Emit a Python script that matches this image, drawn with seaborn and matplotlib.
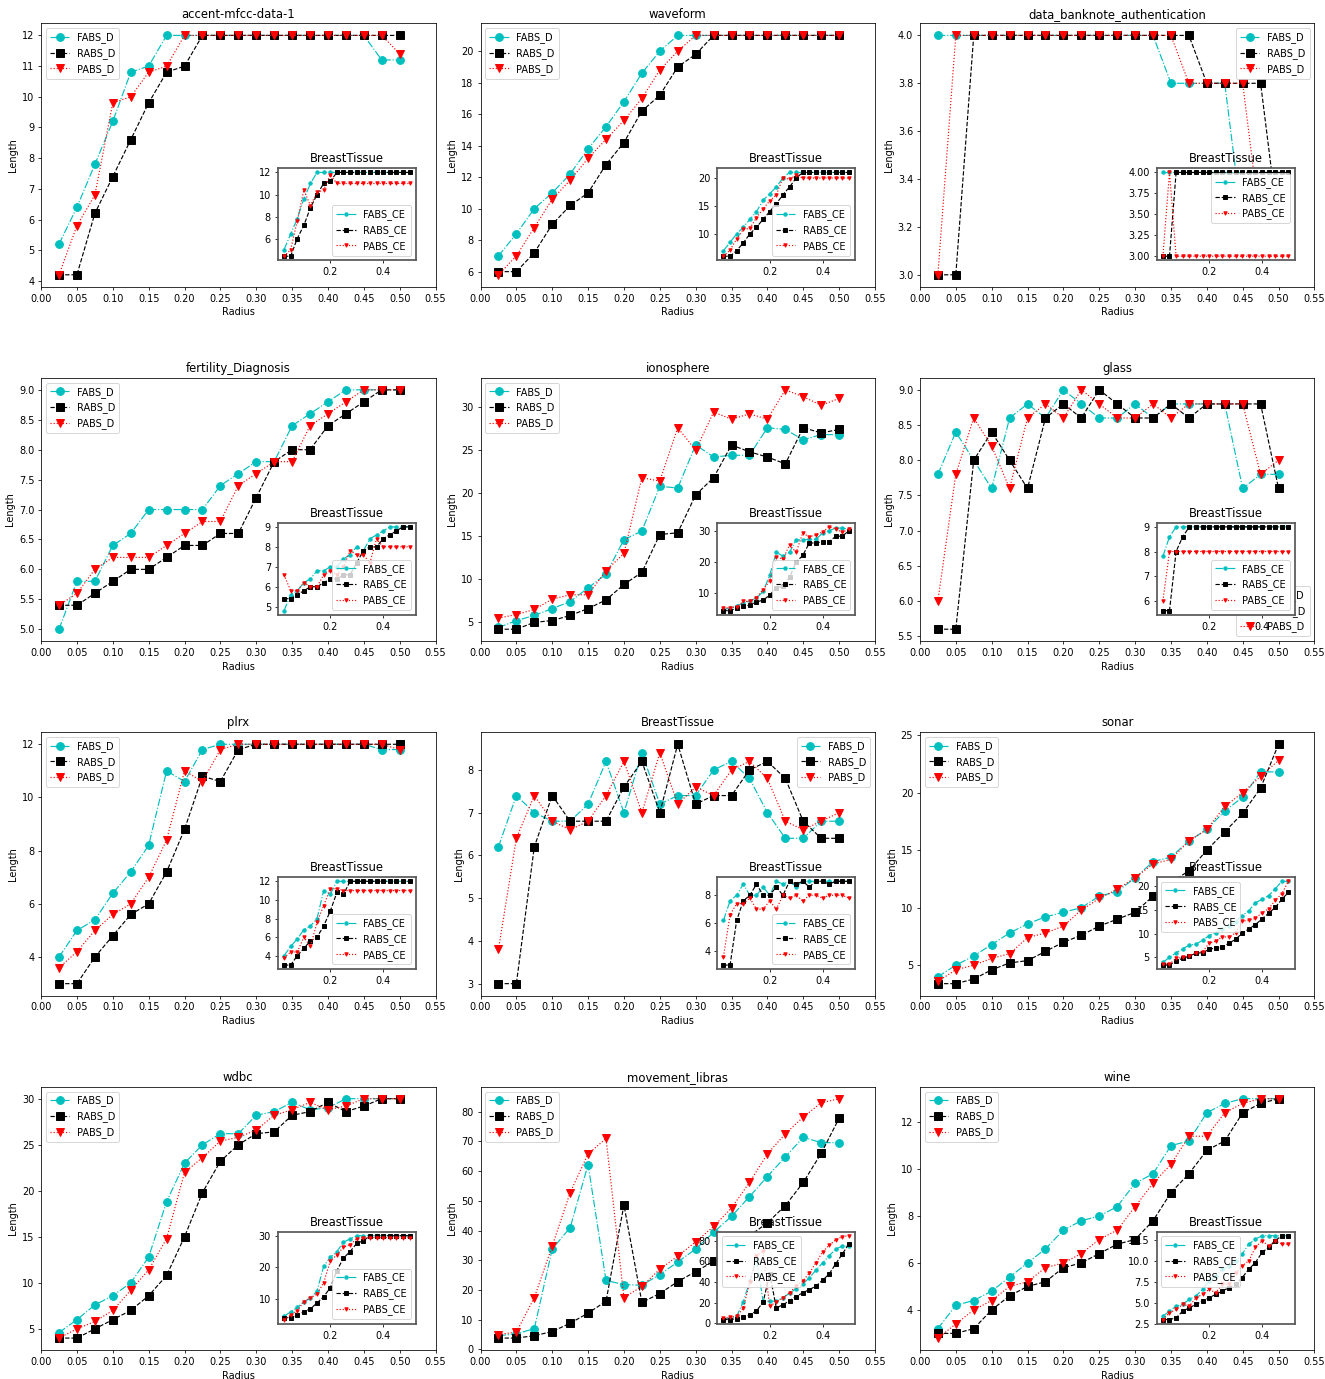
import matplotlib
matplotlib.use("Agg")
import matplotlib.pyplot as plt
import seaborn as sns

radius = [0.025, 0.05, 0.075, 0.1, 0.125, 0.15, 0.175, 0.2, 0.225, 0.25,
          0.275, 0.3, 0.325, 0.35, 0.375, 0.4, 0.425, 0.45, 0.475, 0.5]
main_ticks = [0.0, 0.05, 0.1, 0.15, 0.2, 0.25, 0.3, 0.35, 0.4, 0.45, 0.5, 0.55]

titles = ["accent-mfcc-data-1", "waveform", "data_banknote_authentication",
          "fertility_Diagnosis", "ionosphere", "glass",
          "plrx", "BreastTissue", "sonar",
          "wdbc", "movement_libras", "wine"]
inset_title = "BreastTissue"
main_labels = ["FABS_D", "RABS_D", "PABS_D"]
inset_labels = ["FABS_CE", "RABS_CE", "PABS_CE"]

# ---- accent-mfcc-data-1
accent_F = [5.2, 6.4, 7.8, 9.2, 10.8, 11.0, 12, 12, 12, 12, 12, 12, 12, 12, 12, 12, 12, 12, 11.2, 11.2]
accent_R = [4.2, 4.2, 6.2, 7.4, 8.6, 9.8, 10.8, 11.0, 12, 12, 12, 12, 12, 12, 12, 12, 12, 12, 12, 12]
accent_P = [4.2, 5.8, 6.8, 9.8, 10.0, 10.8, 11.0, 12, 12, 12, 12, 12, 12, 12, 12, 12, 12, 12, 12, 11.4]
accent_Fi = [5.0, 6.4, 7.8, 9.6, 11.0, 12, 12, 12, 12, 12, 12, 12, 12, 12, 12, 12, 12, 12, 12, 12]
accent_Ri = [4.4, 4.4, 6.0, 7.2, 8.8, 10.0, 11.0, 11.2, 12, 12, 12, 12, 12, 12, 12, 12, 12, 12, 12, 12]
accent_Pi = [4.4, 5.0, 7.6, 10.4, 9.0, 10.2, 10.4, 11.8, 11, 11, 11, 11, 11, 11, 11, 11, 11, 11, 11, 11]

# ---- waveform
wave_F = [7.0, 8.4, 10.0, 11.0, 12.2, 13.8, 15.2, 16.8, 18.6, 20.0, 21, 21, 21, 21, 21, 21, 21, 21, 21, 21]
wave_R = [6.0, 6.0, 7.2, 9.0, 10.2, 11.0, 12.8, 14.2, 16.2, 17.2, 19.0, 19.8, 21, 21, 21, 21, 21, 21, 21, 21]
wave_P = [5.8, 7.0, 8.8, 10.6, 11.8, 13.2, 14.4, 15.6, 17.0, 18.8, 20.0, 21, 21, 21, 21, 21, 21, 21, 21, 21]
wave_Fi = [7.0, 8.5, 10.0, 11.2, 12.6, 14.0, 16.0, 17.2, 18.4, 20.0, 21, 21, 21, 21, 21, 21, 21, 21, 21, 21]
wave_Ri = [6.0, 6.0, 7.0, 8.4, 10.0, 11.2, 12.6, 14.0, 15.4, 17.0, 18.4, 20.0, 21, 21, 21, 21, 21, 21, 21, 21]
wave_Pi = [6.0, 7.1, 9.1, 10.8, 11.0, 12.9, 14.5, 15.9, 17.0, 20.0, 19.8, 20.5, 20, 20, 20, 20, 20, 20, 20, 20]

# ---- data_banknote_authentication
bank_F = [4.0, 4.0, 4.0, 4.0, 4.0, 4.0, 4.0, 4.0, 4.0, 4.0, 4.0, 4.0, 4.0, 3.8, 3.8, 3.8, 3.8, 3.2, 3.2, 3.2]
bank_R = [3.0, 3.0, 4.0, 4.0, 4.0, 4.0, 4.0, 4.0, 4.0, 4.0, 4.0, 4.0, 4.0, 4.0, 4.0, 3.8, 3.8, 3.8, 3.8, 3.2]
bank_P = [3.0, 4.0, 4.0, 4.0, 4.0, 4.0, 4.0, 4.0, 4.0, 4.0, 4.0, 4.0, 4.0, 4.0, 3.8, 3.8, 3.8, 3.8, 3.2, 3.2]
bank_Fi = [4.0, 4.0, 4.0, 4.0, 4.0, 4.0, 4.0, 4.0, 4.0, 4.0, 4.0, 4.0, 4.0, 4.0, 4.0, 4.0, 4.0, 4.0, 4.0, 4.0]
bank_Ri = [3.0, 3.0, 4.0, 4.0, 4.0, 4.0, 4.0, 4.0, 4.0, 4.0, 4.0, 4.0, 4.0, 4.0, 4.0, 4.0, 4.0, 4.0, 4.0, 4.0]
bank_Pi = [3.0, 4.0, 3.0, 3.0, 3.0, 3.0, 3.0, 3.0, 3.0, 3.0, 3.0, 3.0, 3.0, 3.0, 3.0, 3.0, 3.0, 3.0, 3.0, 3.0]

# ---- fertility_Diagnosis
fert_F = [5.0, 5.8, 5.8, 6.4, 6.6, 7.0, 7.0, 7.0, 7.0, 7.4, 7.6, 7.8, 7.8, 8.4, 8.6, 8.8, 9.0, 9.0, 9.0, 9.0]
fert_R = [5.4, 5.4, 5.6, 5.8, 6.0, 6.0, 6.2, 6.4, 6.4, 6.6, 6.6, 7.2, 7.8, 8.0, 8.0, 8.4, 8.6, 8.8, 9.0, 9.0]
fert_P = [5.4, 5.6, 6.0, 6.2, 6.2, 6.2, 6.4, 6.6, 6.8, 6.8, 7.4, 7.6, 7.8, 7.8, 8.4, 8.6, 8.8, 9.0, 9.0, 9.0]
fert_Fi = [4.8, 5.6, 5.8, 6.2, 6.4, 6.8, 6.8, 7.0, 7.0, 7.4, 7.6, 8.0, 7.8, 8.4, 8.6, 8.8, 9.0, 9.0, 9.0, 9.0]
fert_Ri = [5.4, 5.4, 5.6, 5.8, 6.0, 6.0, 6.2, 6.4, 6.4, 6.6, 6.6, 7.2, 7.8, 8.0, 8.0, 8.4, 8.6, 8.8, 9.0, 9.0]
fert_Pi = [6.6, 5.8, 5.8, 6.2, 6.0, 6.0, 6.6, 6.8, 6.6, 7.0, 7.8, 7.6, 7.6, 7.2, 8.4, 8.0, 8.0, 8.0, 8.0, 8.0]

# ---- ionosphere
iono_F = [4.4, 5.2, 5.8, 6.6, 7.4, 9.0, 10.6, 14.6, 15.6, 20.8, 20.6, 25.6, 24.2, 24.4, 24.4, 27.6, 27.4, 26.2, 26.8, 26.8]
iono_R = [4.2, 4.2, 5.0, 5.2, 5.8, 6.6, 7.6, 9.4, 10.8, 15.2, 15.4, 19.8, 21.8, 25.6, 24.8, 24.2, 23.4, 27.6, 27.0, 27.4]
iono_P = [5.5, 5.9, 6.5, 7.7, 8.2, 8.2, 11.0, 13.0, 21.8, 21.4, 27.6, 25.0, 29.4, 28.6, 29.2, 28.6, 32.0, 31.2, 30.2, 31.0]
iono_Fi = [4.6, 5.0, 5.8, 6.6, 7.4, 8.2, 10.4, 15.6, 23.0, 21.8, 23.0, 27.0, 27.0, 27.2, 27.2, 29.2, 30.0, 30.8, 30.8, 30.4]
iono_Ri = [4.2, 4.2, 5.0, 5.6, 6.0, 7.0, 7.6, 9.2, 11.6, 12.0, 15.0, 19.8, 22.0, 26.0, 26.0, 26.4, 26.4, 28.2, 28.2, 30.0]
iono_Pi = [5.0, 5.2, 5.4, 7.2, 7.2, 8.4, 11.0, 13.8, 21.6, 20.8, 25.4, 23.0, 29.2, 28.0, 28.6, 29.6, 31.2, 30.6, 29.4, 30.6]

# ---- glass
glass_F = [7.8, 8.4, 8.0, 7.6, 8.6, 8.8, 8.6, 9.0, 8.8, 8.6, 8.6, 8.8, 8.6, 8.8, 8.8, 8.8, 8.8, 7.6, 7.8, 7.8]
glass_R = [5.6, 5.6, 8.0, 8.4, 8.0, 7.6, 8.6, 8.8, 8.6, 9.0, 8.8, 8.6, 8.6, 8.8, 8.6, 8.8, 8.8, 8.8, 8.8, 7.6]
glass_P = [6.0, 7.8, 8.6, 8.2, 7.6, 8.6, 8.8, 8.6, 9.0, 8.8, 8.6, 8.6, 8.8, 8.6, 8.8, 8.8, 8.8, 8.8, 7.8, 8.0]
glass_Fi = [7.8, 8.6, 9.0, 9.0, 9.0, 9.0, 9.0, 9.0, 9.0, 9.0, 9.0, 9.0, 9.0, 9.0, 9.0, 9.0, 9.0, 9.0, 9.0, 9.0]
glass_Ri = [5.6, 5.6, 8.0, 8.6, 9.0, 9.0, 9.0, 9.0, 9.0, 9.0, 9.0, 9.0, 9.0, 9.0, 9.0, 9.0, 9.0, 9.0, 9.0, 9.0]
glass_Pi = [6.0, 8.0, 8.0, 8.0, 8.0, 8.0, 8.0, 8.0, 8.0, 8.0, 8.0, 8.0, 8.0, 8.0, 8.0, 8.0, 8.0, 8.0, 8.0, 8.0]

# ---- plrx
plrx_F = [4.0, 5.0, 5.4, 6.4, 7.2, 8.2, 11.0, 10.6, 11.8, 12, 12, 12, 12, 12, 12, 12, 12, 12, 11.8, 11.8]
plrx_R = [3.0, 3.0, 4.0, 4.8, 5.6, 6.0, 7.2, 8.8, 10.8, 10.6, 11.8, 12, 12, 12, 12, 12, 12, 12, 12, 12]
plrx_P = [3.6, 4.2, 5.0, 5.6, 6.0, 7.0, 8.4, 11.0, 10.6, 11.8, 12, 12, 12, 12, 12, 12, 12, 12, 12, 11.8]
plrx_Fi = [4.0, 5.0, 5.8, 6.8, 7.2, 8.0, 11.0, 10.6, 12, 12, 12, 12, 12, 12, 12, 12, 12, 12, 12, 12]
plrx_Ri = [3.0, 3.0, 4.0, 4.8, 5.6, 6.0, 7.2, 8.8, 10.8, 10.6, 12, 12, 12, 12, 12, 12, 12, 12, 12, 12]
plrx_Pi = [3.8, 4.4, 4.4, 6.0, 5.0, 7.6, 9.4, 11.2, 11.2, 11.0, 11, 11, 11, 11, 11, 11, 11, 11, 11, 11]

# ---- BreastTissue
breast_F = [6.2, 7.4, 7.0, 6.8, 6.8, 7.2, 8.2, 7.0, 8.4, 7.2, 7.4, 7.4, 8.0, 8.2, 7.8, 7.0, 6.4, 6.4, 6.8, 6.8]
breast_R = [3.0, 3.0, 6.2, 7.4, 6.8, 6.8, 6.8, 7.6, 8.2, 7.0, 8.6, 7.2, 7.4, 7.4, 8.0, 8.2, 7.8, 6.8, 6.4, 6.4]
breast_P = [3.8, 6.4, 7.4, 6.8, 6.6, 6.8, 7.4, 8.2, 7.0, 8.4, 7.2, 7.6, 7.4, 8.0, 8.2, 7.8, 6.8, 6.6, 6.8, 7.0]
breast_Fi = [6.2, 7.6, 8.0, 8.8, 8.0, 8.0, 8.6, 8.0, 9.0, 8.8, 9.0, 8.6, 9.0, 9.0, 9.0, 9.0, 9.0, 9.0, 9.0, 9.0]
breast_Ri = [3.0, 3.0, 6.2, 7.6, 8.0, 8.8, 8.0, 8.0, 8.6, 8.0, 9.0, 8.8, 9.0, 8.6, 9.0, 9.0, 8.8, 9.0, 9.0, 9.0]
breast_Pi = [3.6, 6.6, 7.4, 7.4, 7.8, 7.0, 7.0, 7.6, 7.0, 8.0, 7.8, 8.0, 7.6, 8.0, 8.0, 7.8, 8.0, 8.0, 8.0, 7.8]

# ---- sonar
sonar_F = [4.0, 5.0, 5.8, 6.8, 7.8, 8.6, 9.2, 9.6, 10.0, 11.0, 11.4, 12.6, 14.0, 14.4, 15.8, 16.8, 18.4, 19.6, 21.8, 21.8]
sonar_R = [3.4, 3.4, 3.8, 4.6, 5.2, 5.4, 6.2, 7.0, 7.6, 8.4, 9.0, 9.6, 11.0, 12.2, 13.2, 15.0, 16.6, 18.2, 20.4, 24.2]
sonar_P = [3.6, 4.6, 5.0, 5.6, 6.0, 7.4, 7.8, 8.4, 9.8, 10.8, 11.6, 12.6, 13.8, 14.2, 15.8, 16.8, 18.8, 20.0, 21.4, 22.8]
sonar_Fi = [4.0, 5.0, 6.0, 6.8, 7.6, 7.8, 8.6, 9.6, 10.2, 11.0, 11.6, 12.4, 13.8, 14.8, 16.5, 17.2, 18.0, 19.4, 21.0, 21.0]
sonar_Ri = [3.4, 3.4, 4.3, 4.8, 5.3, 5.9, 6.0, 6.7, 7.0, 7.1, 8.0, 8.8, 10.1, 11.0, 11.9, 13.1, 14.3, 15.5, 17.2, 18.7]
sonar_Pi = [3.6, 3.6, 4.8, 5.0, 5.4, 6.0, 6.2, 8.0, 8.4, 9.4, 9.2, 10.2, 12.6, 12.8, 13.2, 14.4, 15.2, 17.0, 18.4, 21.0]

# ---- wdbc
wdbc_F = [4.6, 6.0, 7.6, 8.6, 10.0, 12.8, 18.8, 23.0, 25.0, 26.2, 26.2, 28.2, 28.6, 29.6, 28.8, 29.0, 30.0, 30.0, 30.0, 30.0]
wdbc_R = [4.0, 4.0, 5.0, 6.0, 7.0, 8.6, 10.8, 15.0, 19.8, 23.2, 25.0, 26.2, 26.4, 28.2, 28.6, 29.6, 28.6, 29.2, 30.0, 30.0]
wdbc_P = [4.0, 5.0, 5.8, 7.0, 9.2, 11.4, 14.8, 22.0, 23.6, 25.4, 25.8, 26.6, 28.2, 28.8, 29.6, 28.8, 29.2, 30.0, 30.0, 30.0]
wdbc_Fi = [4.6, 6.0, 7.4, 9.2, 10.4, 12.6, 20.4, 23.2, 25.0, 28.0, 29.0, 30.0, 30.0, 30.0, 30.0, 30.0, 30.0, 30.0, 30.0, 30.0]
wdbc_Ri = [4.2, 4.2, 5.0, 6.0, 7.0, 8.8, 10.8, 13.6, 19.0, 23.0, 25.0, 27.6, 28.4, 30.0, 30.0, 30.0, 30.0, 30.0, 30.0, 30.0]
wdbc_Pi = [3.6, 5.0, 6.4, 9.2, 10.4, 11.6, 15.2, 22.0, 24.0, 26.4, 27.2, 29.0, 29.4, 29.4, 29.4, 29.4, 29.4, 29.4, 29.4, 29.4]

# ---- movement_libras
libras_F = [4.6, 5.2, 7.0, 33.8, 41.0, 62.2, 23.2, 21.8, 21.6, 25.2, 29.4, 33.8, 39.4, 44.8, 51.4, 58.2, 64.8, 71.4, 69.6, 69.6]
libras_R = [3.8, 3.8, 4.6, 6.0, 8.8, 12.2, 16.2, 48.6, 15.8, 18.8, 22.8, 26.2, 29.6, 33.8, 38.2, 42.6, 48.4, 56.2, 66.0, 77.8]
libras_P = [5.0, 5.8, 17.4, 34.8, 52.8, 65.8, 71.0, 17.4, 21.2, 27.0, 31.4, 36.2, 41.4, 47.6, 56.2, 65.8, 72.6, 78.2, 83.0, 84.4]
libras_Fi = [4.6, 5.2, 7.0, 21.0, 41.0, 62.0, 21.6, 21.4, 21.6, 25.0, 29.0, 33.6, 38.0, 44.0, 51.4, 58.4, 65.2, 71.8, 74.6, 74.6]
libras_Ri = [3.8, 3.8, 4.6, 5.8, 8.4, 12.2, 20.4, 48.0, 15.0, 18.0, 22.0, 26.0, 29.6, 32.6, 36.0, 41.8, 47.6, 57.6, 67.0, 77.0]
libras_Pi = [5.0, 6.0, 7.0, 14.8, 40.0, 65.0, 70.0, 16.4, 21.0, 24.4, 29.6, 36.0, 41.0, 48.6, 58.6, 69.0, 75.4, 80.6, 83.8, 84.6]

# ---- wine
wine_F = [3.2, 4.2, 4.4, 4.8, 5.4, 6.0, 6.6, 7.4, 7.8, 8.0, 8.4, 9.4, 9.8, 11.0, 11.2, 12.4, 12.8, 13.0, 13.0, 13.0]
wine_R = [3.0, 3.0, 3.2, 4.0, 4.6, 5.0, 5.2, 5.8, 6.0, 6.4, 6.8, 7.0, 7.8, 9.0, 9.8, 10.8, 11.2, 12.4, 12.8, 13.0]
wine_P = [2.8, 3.4, 4.0, 4.4, 5.0, 5.2, 5.8, 6.0, 6.4, 7.0, 7.4, 8.4, 9.4, 10.2, 11.4, 11.4, 12.4, 12.8, 13.0, 13.0]
wine_Fi = [3.4, 4.0, 4.6, 4.8, 5.4, 5.8, 6.6, 7.6, 8.2, 9.0, 9.4, 10.0, 10.8, 12.0, 12.6, 13.0, 13.0, 13.0, 13.0, 13.0]
wine_Ri = [3.0, 3.0, 3.2, 4.0, 4.4, 4.8, 5.2, 5.6, 6.0, 6.4, 6.8, 7.2, 8.0, 9.0, 9.8, 11.0, 11.6, 12.4, 13.0, 13.0]
wine_Pi = [3.0, 3.8, 4.2, 4.8, 4.6, 5.6, 6.0, 6.6, 6.2, 7.2, 7.2, 8.6, 9.4, 10.0, 11.6, 12.4, 11.8, 12.4, 12.0, 12.0]

# inset y tick values as shown in the reference
inset_yticks = [
    [6, 8, 10, 12], [10, 15, 20], [3.0, 3.25, 3.5, 3.75, 4.0],
    [5, 6, 7, 8, 9], [10, 20, 30], [6, 7, 8, 9],
    [4, 6, 8, 10, 12], [4, 6, 8], [5, 10, 15, 20],
    [10, 20, 30], [0, 20, 40, 60, 80], [2.5, 5.0, 7.5, 10.0, 12.5],
]

main_series = [
    (accent_F, accent_R, accent_P), (wave_F, wave_R, wave_P), (bank_F, bank_R, bank_P),
    (fert_F, fert_R, fert_P), (iono_F, iono_R, iono_P), (glass_F, glass_R, glass_P),
    (plrx_F, plrx_R, plrx_P), (breast_F, breast_R, breast_P), (sonar_F, sonar_R, sonar_P),
    (wdbc_F, wdbc_R, wdbc_P), (libras_F, libras_R, libras_P), (wine_F, wine_R, wine_P),
]
inset_series = [
    (accent_Fi, accent_Ri, accent_Pi), (wave_Fi, wave_Ri, wave_Pi), (bank_Fi, bank_Ri, bank_Pi),
    (fert_Fi, fert_Ri, fert_Pi), (iono_Fi, iono_Ri, iono_Pi), (glass_Fi, glass_Ri, glass_Pi),
    (plrx_Fi, plrx_Ri, plrx_Pi), (breast_Fi, breast_Ri, breast_Pi), (sonar_Fi, sonar_Ri, sonar_Pi),
    (wdbc_Fi, wdbc_Ri, wdbc_Pi), (libras_Fi, libras_Ri, libras_Pi), (wine_Fi, wine_Ri, wine_Pi),
]
main_legend_loc = ["upper left", "upper left", "upper right",
                   "upper left", "upper left", "lower right",
                   "upper left", "upper right", "upper left",
                   "upper left", "upper left", "upper left"]
inset_legend_loc = ["lower right", "lower right", "upper right",
                    "lower right", "lower right", "lower right",
                    "lower right", "lower right", "upper left",
                    "lower right", "upper left", "upper left"]

colors = ["c", "k", "r"]
linestyles = ["-.", "--", ":"]
markers = ["o", "s", "v"]

fig, axes = plt.subplots(4, 3, figsize=(1325 / 70, 1379 / 70), dpi=70)
fig.subplots_adjust(left=0.031, right=0.992, bottom=0.021, top=0.983,
                    wspace=0.114, hspace=0.346)

for idx, ax in enumerate(axes.flat):
    for k in range(3):
        sns.lineplot(x=radius, y=main_series[idx][k], ax=ax, color=colors[k],
                     linestyle=linestyles[k], marker=markers[k], markersize=8,
                     markeredgecolor=colors[k], markeredgewidth=1,
                     linewidth=1.2, label=main_labels[k], errorbar=None)
    ax.set_xlim(0, 0.55)
    ax.set_xticks(main_ticks)
    ax.set_title(titles[idx])
    ax.set_xlabel("Radius")
    ax.set_ylabel("Length")
    ax.legend(loc=main_legend_loc[idx])

    ins = ax.inset_axes([0.6, 0.1, 0.35, 0.35])
    ins.set_zorder(10)
    for k in range(3):
        sns.lineplot(x=radius, y=inset_series[idx][k], ax=ins, color=colors[k],
                     linestyle=linestyles[k], marker=markers[k], markersize=3.5,
                     markeredgecolor=colors[k], markeredgewidth=1,
                     linewidth=1.2, label=inset_labels[k], errorbar=None)
    ins.set_xticks([0.2, 0.4])
    ins.set_yticks(inset_yticks[idx])
    ins.set_title(inset_title)
    ins.set_xlabel("")
    ins.set_ylabel("")
    for sp in ins.spines.values():
        sp.set_linewidth(1.8)
        sp.set_edgecolor("0.35")
    ins.legend(loc=inset_legend_loc[idx])

fig.savefig("out.png", dpi=70)
